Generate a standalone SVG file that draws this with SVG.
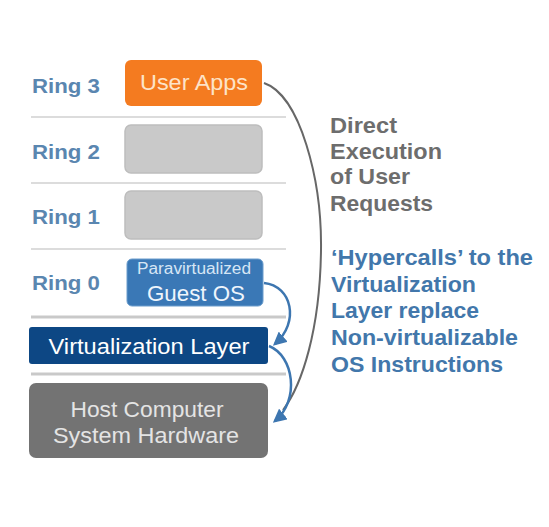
<svg xmlns="http://www.w3.org/2000/svg" width="549" height="527" viewBox="0 0 549 527">
<style>
text{font-family:"Liberation Sans",Arial,sans-serif}
.ring{font-weight:bold;font-size:20px;fill:#5a86b0}
.box{font-size:22px;text-anchor:middle}
.rt{font-weight:bold;font-size:22px}
.gray{fill:#6d6d6d}
.bl{fill:#4277ab}
.div{stroke:#dcdcdc;stroke-width:2}
.div2{stroke:#c9c9c9;stroke-width:3}
.empty{fill:#c9c9c9;stroke:#bdbdbd;stroke-width:1.5}
.blue{fill:none;stroke:#3d76b0;stroke-width:2.5}
</style>
<defs>
<marker id="ah" viewBox="0 0 10 10" refX="8" refY="5" markerWidth="5.5" markerHeight="5.5" orient="auto" markerUnits="strokeWidth">
<path d="M0,0 L10,5 L0,10 Z" fill="#3d76b0"/>
</marker>
</defs>
<rect width="549" height="527" fill="#ffffff"/>
<g id="dividers">
<line class="div" x1="31" y1="117" x2="286" y2="117"/>
<line class="div" x1="31" y1="183" x2="286" y2="183"/>
<line class="div" x1="31" y1="249" x2="286" y2="249"/>
<line class="div2" x1="31" y1="317" x2="286" y2="317"/>
<line class="div2" x1="31" y1="374" x2="286" y2="374"/>
</g>
<g id="ring-labels">
<text class="ring" x="32" y="93" textLength="68" lengthAdjust="spacingAndGlyphs">Ring 3</text>
<text class="ring" x="32" y="159" textLength="68" lengthAdjust="spacingAndGlyphs">Ring 2</text>
<text class="ring" x="32" y="224" textLength="68" lengthAdjust="spacingAndGlyphs">Ring 1</text>
<text class="ring" x="32" y="290" textLength="68" lengthAdjust="spacingAndGlyphs">Ring 0</text>
</g>
<g id="user-apps">
<rect x="125" y="60" width="137" height="46" rx="6" fill="#f47b20"/>
<text class="box" x="194" y="90" fill="#fde3c8" textLength="108" lengthAdjust="spacingAndGlyphs">User Apps</text>
</g>
<g id="ring2-box">
<rect class="empty" x="125" y="125" width="137" height="48" rx="6"/>
</g>
<g id="ring1-box">
<rect class="empty" x="125" y="191" width="137" height="48" rx="6"/>
</g>
<g id="guest-os">
<rect x="127" y="259" width="136" height="47" rx="5" fill="#3a78b6" stroke="#6a9ccc" stroke-width="1"/>
<text class="box" x="194" y="274" fill="#d6e6f5" style="font-size:16px" textLength="114" lengthAdjust="spacingAndGlyphs">Paravirtualized</text>
<text class="box" x="196" y="301" fill="#eef5fc" textLength="98" lengthAdjust="spacingAndGlyphs">Guest OS</text>
</g>
<g id="virtualization-layer">
<rect x="29" y="327" width="239" height="37" rx="3" fill="#0d4784"/>
<text class="box" x="149" y="354" fill="#ffffff" textLength="201" lengthAdjust="spacingAndGlyphs">Virtualization Layer</text>
</g>
<g id="host-hardware">
<rect x="29" y="383" width="239" height="75" rx="7" fill="#737373"/>
<text class="box" x="147" y="417" fill="#e4e4e4" textLength="153" lengthAdjust="spacingAndGlyphs">Host Computer</text>
<text class="box" x="146" y="443" fill="#e4e4e4" textLength="186" lengthAdjust="spacingAndGlyphs">System Hardware</text>
</g>
<g id="connectors">
<path d="M264,83 C300,95 322,180 321,250 C320,330 302,385 283,410" fill="none" stroke="#676767" stroke-width="2"/>
<path class="blue" d="M264,283 C292,286 300,322 275,344" marker-end="url(#ah)"/>
<path class="blue" d="M269,346 C294,356 300,400 275,421" marker-end="url(#ah)"/>
</g>
<g id="notes">
<text class="rt gray" x="330" y="133" textLength="67" lengthAdjust="spacingAndGlyphs">Direct</text>
<text class="rt gray" x="330" y="159" textLength="112" lengthAdjust="spacingAndGlyphs">Execution</text>
<text class="rt gray" x="330" y="184" textLength="80" lengthAdjust="spacingAndGlyphs">of User</text>
<text class="rt gray" x="330" y="211" textLength="103" lengthAdjust="spacingAndGlyphs">Requests</text>
<text class="rt bl" x="331" y="265" textLength="202" lengthAdjust="spacingAndGlyphs">‘Hypercalls’ to the</text>
<text class="rt bl" x="331" y="292" textLength="145" lengthAdjust="spacingAndGlyphs">Virtualization</text>
<text class="rt bl" x="331" y="318" textLength="148" lengthAdjust="spacingAndGlyphs">Layer replace</text>
<text class="rt bl" x="331" y="345" textLength="187" lengthAdjust="spacingAndGlyphs">Non-virtualizable</text>
<text class="rt bl" x="331" y="372" textLength="172" lengthAdjust="spacingAndGlyphs">OS Instructions</text>
</g>
</svg>
